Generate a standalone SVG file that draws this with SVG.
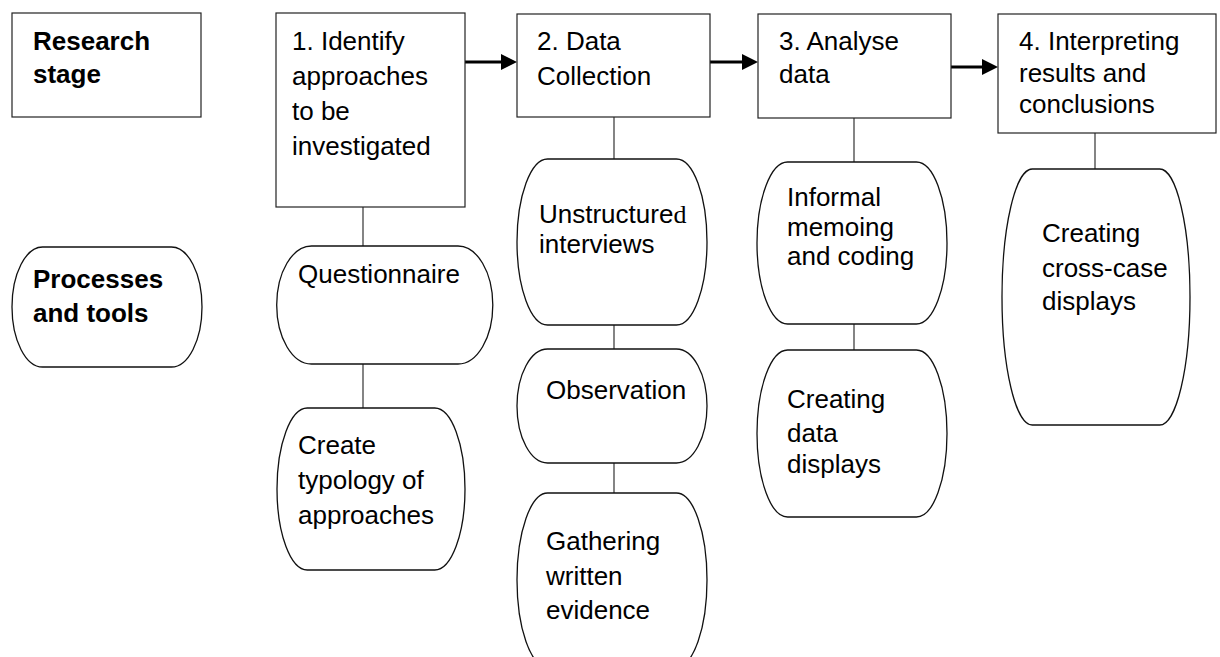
<svg xmlns="http://www.w3.org/2000/svg" width="1220" height="657" viewBox="0 0 1220 657">
<style>
.box{fill:#fff;stroke:#222;stroke-width:1.2}
.proc{fill:#fff;stroke:#111;stroke-width:1.3}
.t{font-family:"Liberation Sans",Arial,sans-serif;font-size:26px;fill:#000}
.b{font-weight:bold}
.conn{stroke:#333;stroke-width:1.2;fill:none}
.arr{stroke:#000;stroke-width:3;fill:none;marker-end:url(#ah)}
</style>
<defs>
<marker id="ah" markerUnits="userSpaceOnUse" markerWidth="16" markerHeight="16" refX="6" refY="8" orient="auto">
<path d="M0,0 L16,8 L0,16 Z" fill="#000"/>
</marker>
</defs>
<rect width="1220" height="657" fill="#fff"/>
<g id="connectors">
<line class="conn" x1="363" y1="207" x2="363" y2="246"/>
<line class="conn" x1="363" y1="364" x2="363" y2="408"/>
<line class="conn" x1="614" y1="117" x2="614" y2="159"/>
<line class="conn" x1="614" y1="325" x2="614" y2="349"/>
<line class="conn" x1="614" y1="463" x2="614" y2="493"/>
<line class="conn" x1="854" y1="118" x2="854" y2="162"/>
<line class="conn" x1="854" y1="324" x2="854" y2="350"/>
<line class="conn" x1="1095" y1="133" x2="1095" y2="169"/>
<line class="arr" x1="465" y1="62" x2="507" y2="62"/>
<line class="arr" x1="710" y1="62" x2="748" y2="62"/>
<line class="arr" x1="951" y1="67" x2="988" y2="67"/>
</g>
<g id="research-stage">
<rect class="box" x="12" y="13" width="189" height="104"/>
<text class="t b" x="33" y="50">Research</text>
<text class="t b" x="33" y="83">stage</text>
</g>
<g id="processes-tools">
<path class="proc" d="M42.6,247 H171.4 A30.6,60 0 0 1 171.4,367 H42.6 A30.6,60 0 0 1 42.6,247 Z"/>
<text class="t b" x="33" y="288">Processes</text>
<text class="t b" x="33" y="322">and tools</text>
</g>
<g id="stage1">
<rect class="box" x="276" y="13" width="189" height="194"/>
<text class="t" x="292" y="50">1. Identify</text>
<text class="t" x="292" y="85">approaches</text>
<text class="t" x="292" y="120">to be</text>
<text class="t" x="292" y="155">investigated</text>
</g>
<g id="stage2">
<rect class="box" x="517" y="14" width="193" height="103"/>
<text class="t" x="537" y="50">2. Data</text>
<text class="t" x="537" y="85">Collection</text>
</g>
<g id="stage3">
<rect class="box" x="758" y="14" width="193" height="104"/>
<text class="t" x="779" y="50">3. Analyse</text>
<text class="t" x="779" y="83">data</text>
</g>
<g id="stage4">
<rect class="box" x="998" y="14" width="218" height="119"/>
<text class="t" x="1019" y="50">4. Interpreting</text>
<text class="t" x="1019" y="82">results and</text>
<text class="t" x="1019" y="113">conclusions</text>
</g>
<g id="questionnaire">
<path class="proc" d="M311.5,246 H458 A34.8,59 0 0 1 458,364 H311.5 A34.8,59 0 0 1 311.5,246 Z"/>
<text class="t" x="298" y="283">Questionnaire</text>
</g>
<g id="typology">
<path class="proc" d="M307.3,408 H434.7 A30.3,81 0 0 1 434.7,570 H307.3 A30.3,81 0 0 1 307.3,408 Z"/>
<text class="t" x="298" y="454">Create</text>
<text class="t" x="298" y="489">typology of</text>
<text class="t" x="298" y="524">approaches</text>
</g>
<g id="unstructured">
<path class="proc" d="M547.6,159 H676.4 A30.6,83 0 0 1 676.4,325 H547.6 A30.6,83 0 0 1 547.6,159 Z"/>
<text class="t" x="539" y="223">Unstructure<tspan font-family="'Liberation Serif',serif">d</tspan></text>
<text class="t" x="539" y="253">interviews</text>
</g>
<g id="observation">
<path class="proc" d="M547.6,349 H676.4 A30.6,57 0 0 1 676.4,463 H547.6 A30.6,57 0 0 1 547.6,349 Z"/>
<text class="t" x="546" y="399">Observation</text>
</g>
<g id="gathering">
<path class="proc" d="M547.6,493 H676.4 A30.6,87 0 0 1 676.4,667 H547.6 A30.6,87 0 0 1 547.6,493 Z"/>
<text class="t" x="546" y="550">Gathering</text>
<text class="t" x="546" y="585">written</text>
<text class="t" x="546" y="619">evidence</text>
</g>
<g id="informal">
<path class="proc" d="M787.6,162 H916.4 A30.6,81 0 0 1 916.4,324 H787.6 A30.6,81 0 0 1 787.6,162 Z"/>
<text class="t" x="787" y="206">Informal</text>
<text class="t" x="787" y="236">memoing</text>
<text class="t" x="787" y="265">and coding</text>
</g>
<g id="data-displays">
<path class="proc" d="M787.6,350 H916.4 A30.6,83.5 0 0 1 916.4,517 H787.6 A30.6,83.5 0 0 1 787.6,350 Z"/>
<text class="t" x="787" y="408">Creating</text>
<text class="t" x="787" y="442">data</text>
<text class="t" x="787" y="473">displays</text>
</g>
<g id="cross-case">
<path class="proc" d="M1032.3,169 H1159.7 A30.3,128 0 0 1 1159.7,425 H1032.3 A30.3,128 0 0 1 1032.3,169 Z"/>
<text class="t" x="1042" y="242">Creating</text>
<text class="t" x="1042" y="277">cross-case</text>
<text class="t" x="1042" y="310">displays</text>
</g>
</svg>
